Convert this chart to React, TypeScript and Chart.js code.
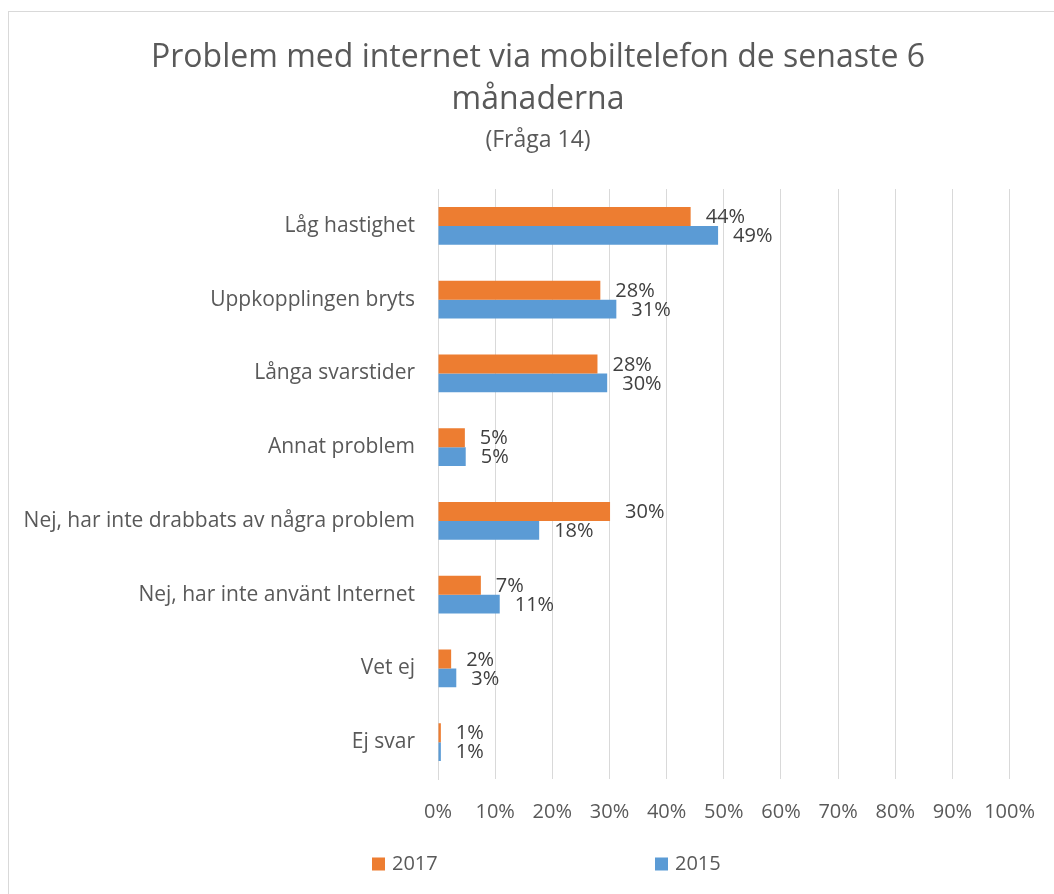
import React, { useEffect, useRef } from "react";
import { Chart, registerables } from "chart.js";

Chart.register(...registerables);

const categories = [
  "Låg hastighet",
  "Uppkopplingen bryts",
  "Långa svarstider",
  "Annat problem",
  "Nej, har inte drabbats av några problem",
  "Nej, har inte använt Internet",
  "Vet ej",
  "Ej svar",
];

const values2017 = [44.2, 28.4, 27.9, 4.7, 30.1, 7.5, 2.3, 0.5];
const values2015 = [49.0, 31.2, 29.6, 4.85, 17.7, 10.8, 3.2, 0.5];
const labels2017 = ["44%", "28%", "28%", "5%", "30%", "7%", "2%", "1%"];
const labels2015 = ["49%", "31%", "30%", "5%", "18%", "11%", "3%", "1%"];
const xTicks = [0, 10, 20, 30, 40, 50, 60, 70, 80, 90, 100];

const seriesNames = ["2017", "2015"];
const seriesColors = ["#ED7D31", "#5B9BD5"];

const FONT = "'Open Sans', 'DejaVu Sans', sans-serif";

const dataLabelPlugin = {
  id: "dataLabels",
  afterDatasetsDraw(chart: any) {
    const ctx = chart.ctx;
    const lbls = [labels2017, labels2015];
    ctx.save();
    ctx.font = `20px ${FONT}`;
    ctx.fillStyle = "#404040";
    ctx.textAlign = "left";
    ctx.textBaseline = "middle";
    chart.data.datasets.forEach((_ds: any, di: number) => {
      const meta = chart.getDatasetMeta(di);
      meta.data.forEach((el: any, i: number) => {
        ctx.fillText(lbls[di][i], el.x + 15, el.y + 1);
      });
    });
    ctx.restore();
  },
};

const customLegendPlugin = {
  id: "customLegend",
  afterDraw(chart: any) {
    const ctx = chart.ctx;
    const y = chart.chartArea.bottom + 85;
    const starts = [chart.chartArea.left - 66, chart.chartArea.left + 217];
    ctx.save();
    ctx.font = `20px ${FONT}`;
    ctx.textBaseline = "middle";
    ctx.textAlign = "left";
    seriesNames.forEach((name, i) => {
      ctx.fillStyle = seriesColors[i];
      ctx.fillRect(starts[i], y - 6.5, 13, 13);
      ctx.fillStyle = "#595959";
      ctx.fillText(name, starts[i] + 20, y);
    });
    ctx.restore();
  },
};

export default function App() {
  const ref = useRef<HTMLCanvasElement | null>(null);
  useEffect(() => {
    if (!ref.current) return;
    const chart = new Chart(ref.current, {
      type: "bar",
      data: {
        labels: categories,
        datasets: [
          {
            label: seriesNames[0],
            data: values2017,
            backgroundColor: seriesColors[0],
            categoryPercentage: 0.515,
            barPercentage: 1,
          },
          {
            label: seriesNames[1],
            data: values2015,
            backgroundColor: seriesColors[1],
            categoryPercentage: 0.515,
            barPercentage: 1,
          },
        ],
      },
      options: {
        indexAxis: "y",
        animation: false,
        responsive: false,
        maintainAspectRatio: false,
        layout: { padding: { left: 0, right: 0, top: 0, bottom: 61 } },
        plugins: {
          legend: { display: false },
          tooltip: { enabled: false },
          title: {
            display: true,
            text: ["Problem med internet via mobiltelefon de senaste 6", "månaderna"],
            color: "#595959",
            font: { family: FONT, size: 32, weight: "normal", lineHeight: 1.3125 },
            padding: { top: 25, bottom: 0 },
          },
          subtitle: {
            display: true,
            text: "(Fråga 14)",
            color: "#595959",
            font: { family: FONT, size: 23, lineHeight: 1.2 },
            padding: { top: 5.2, bottom: 35.2 },
          },
        },
        scales: {
          x: {
            min: 0,
            max: 100,
            afterBuildTicks: (scale: any) => {
              scale.ticks = xTicks.map((v) => ({ value: v }));
            },
            afterFit: (scale: any) => {
              scale.height = 60;
            },
            grid: { color: "#d9d9d9", lineWidth: 1, drawTicks: false },
            border: { display: false },
            ticks: {
              padding: 21.6,
              color: "#595959",
              font: { family: FONT, size: 20 },
              callback: (v: any) => `${v}%`,
            },
          },
          y: {
            afterFit: (scale: any) => {
              scale.width = 429;
            },
            grid: { display: false },
            border: { display: true, color: "#d9d9d9", width: 1 },
            ticks: {
              padding: 15,
              color: "#595959",
              font: { family: FONT, size: 21 },
            },
          },
          yRight: {
            type: "category",
            position: "right",
            display: true,
            afterFit: (scale: any) => {
              scale.width = 57.4;
            },
            grid: { display: false },
            border: { display: false },
            ticks: { display: false },
          },
        },
      },
      plugins: [dataLabelPlugin, customLegendPlugin],
    });
    return () => chart.destroy();
  }, []);

  return (
    <div
      style={{
        position: "fixed",
        left: 8,
        top: 11,
        width: 1060,
        height: 890,
        border: "1px solid #d9d9d9",
        background: "#fff",
      }}
    >
      <canvas ref={ref} width={1058} height={888} style={{ display: "block" }} />
    </div>
  );
}
